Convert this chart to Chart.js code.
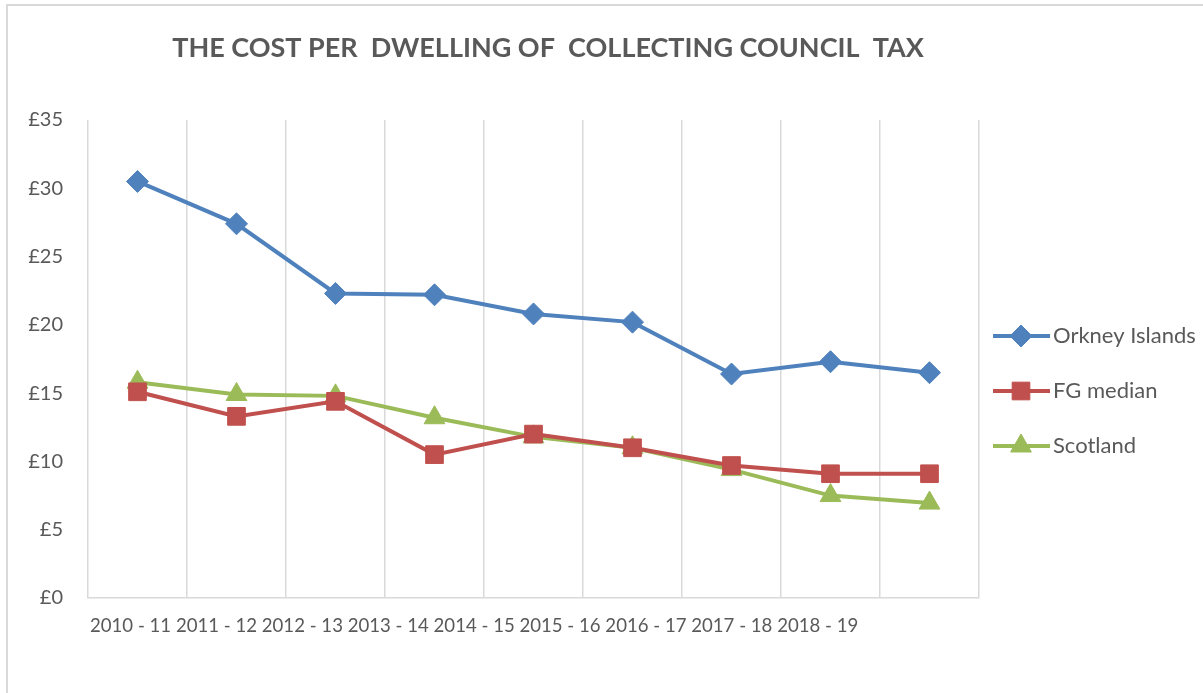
<!DOCTYPE html>
<html>
<head>
<meta charset="utf-8">
<script src="https://cdn.jsdelivr.net/npm/chart.js@4"></script>
<style>
  body { margin: 0; background: #fff; }
  #wrap { position: relative; width: 1203px; height: 693px; }
  #frame { position: absolute; left: 6px; top: 4px; width: 1200px; height: 700px; border-left: 2px solid #d9d9d9; border-top: 2px solid #d9d9d9; }
  canvas { position: absolute; left: 0; top: 0; }
</style>
</head>
<body>
<div id="wrap">
  <div id="frame"></div>
  <canvas id="chart" width="1203" height="693"></canvas>
</div>
<script>
  const title = 'THE COST PER  DWELLING OF  COLLECTING COUNCIL  TAX';
  const years = ['2010 - 11', '2011 - 12', '2012 - 13', '2013 - 14', '2014 - 15',
                 '2015 - 16', '2016 - 17', '2017 - 18', '2018 - 19'];
  const orkney   = [30.5, 27.4, 22.3, 22.2, 20.8, 20.2, 16.4, 17.3, 16.5];
  const fgMedian = [15.1, 13.3, 14.4, 10.5, 12.0, 11.0, 9.7, 9.1, 9.1];
  const scotland = [15.8, 14.9, 14.8, 13.2, 11.8, 11.0, 9.4, 7.5, 6.95];

  const grey = '#595959';
  const gridCol = '#d9d9d9';
  const font = 'Lato, "Open Sans", sans-serif';

  // Excel-ish: all category labels run together as one line from the left
  const xLabels = {
    id: 'xLabels',
    afterDraw(chart) {
      const { ctx, chartArea } = chart;
      ctx.save();
      ctx.font = '18.6px ' + font;
      ctx.fillStyle = grey;
      ctx.textAlign = 'left';
      ctx.textBaseline = 'middle';
      ctx.fillText(years.join(' '), chartArea.left + 2, 626);
      ctx.restore();
    }
  };

  const titlePlugin = {
    id: 'titleText',
    afterDraw(chart) {
      const { ctx } = chart;
      ctx.save();
      ctx.font = 'bold 27px ' + font;
      ctx.fillStyle = grey;
      ctx.textAlign = 'center';
      ctx.textBaseline = 'middle';
      ctx.fillText(title, 548, 48);
      ctx.restore();
    }
  };

  // legend: line + marker + name
  const legendPlugin = {
    id: 'sideLegend',
    afterDraw(chart) {
      const { ctx } = chart;
      chart.data.datasets.forEach((ds, i) => {
        const y = 336 + i * 55;
        ctx.save();
        ctx.strokeStyle = ds.borderColor;
        ctx.lineWidth = 4;
        ctx.beginPath();
        ctx.moveTo(993, y);
        ctx.lineTo(1050, y);
        ctx.stroke();
        ctx.fillStyle = ds.backgroundColor;
        ctx.strokeStyle = ds.backgroundColor;
        ctx.lineWidth = 1;
        Chart.helpers.drawPoint(ctx, { pointStyle: ds.pointStyle, radius: ds.pointRadius, rotation: 0, borderWidth: 1 }, 1021, y);
        ctx.font = '22px ' + font;
        ctx.fillStyle = grey;
        ctx.textAlign = 'left';
        ctx.textBaseline = 'middle';
        ctx.fillText(ds.label, 1053, y);
        ctx.restore();
      });
    }
  };

  const mk = (label, data, color, style, r) => ({
    label, data,
    borderColor: color,
    backgroundColor: color,
    pointBackgroundColor: color,
    pointBorderColor: color,
    borderWidth: 4,
    pointStyle: style,
    pointRadius: r,
    pointBorderWidth: 1,
    tension: 0
  });

  new Chart(document.getElementById('chart'), {
    type: 'line',
    data: {
      labels: years,
      datasets: [
        mk('Orkney Islands', orkney, '#4f81bd', 'rectRot', 11),
        mk('FG median', fgMedian, '#c0504d', 'rect', 12.5),
        mk('Scotland', scotland, '#9bbb59', 'triangle', 12)
      ]
    },
    options: {
      responsive: false,
      animation: false,
      events: [],
      layout: { padding: { top: 120, right: 224, bottom: 95, left: 0 } },
      plugins: { legend: { display: false }, tooltip: { enabled: false } },
      scales: {
        x: {
          offset: true,
          grid: { offset: true, color: gridCol, lineWidth: 1.5, drawTicks: false },
          border: { color: gridCol, width: 1.5 },
          ticks: { display: false },
          afterFit: s => { s.height = 0; }
        },
        y: {
          min: 0, max: 35,
          grid: { display: false, drawTicks: false },
          border: { display: false },
          ticks: {
            stepSize: 5,
            padding: 25,
            color: grey,
            font: { family: font, size: 20 },
            callback: v => '£' + v
          },
          afterFit: s => { s.width = 88; }
        }
      }
    },
    plugins: [xLabels, titlePlugin, legendPlugin]
  });
</script>
</body>
</html>
